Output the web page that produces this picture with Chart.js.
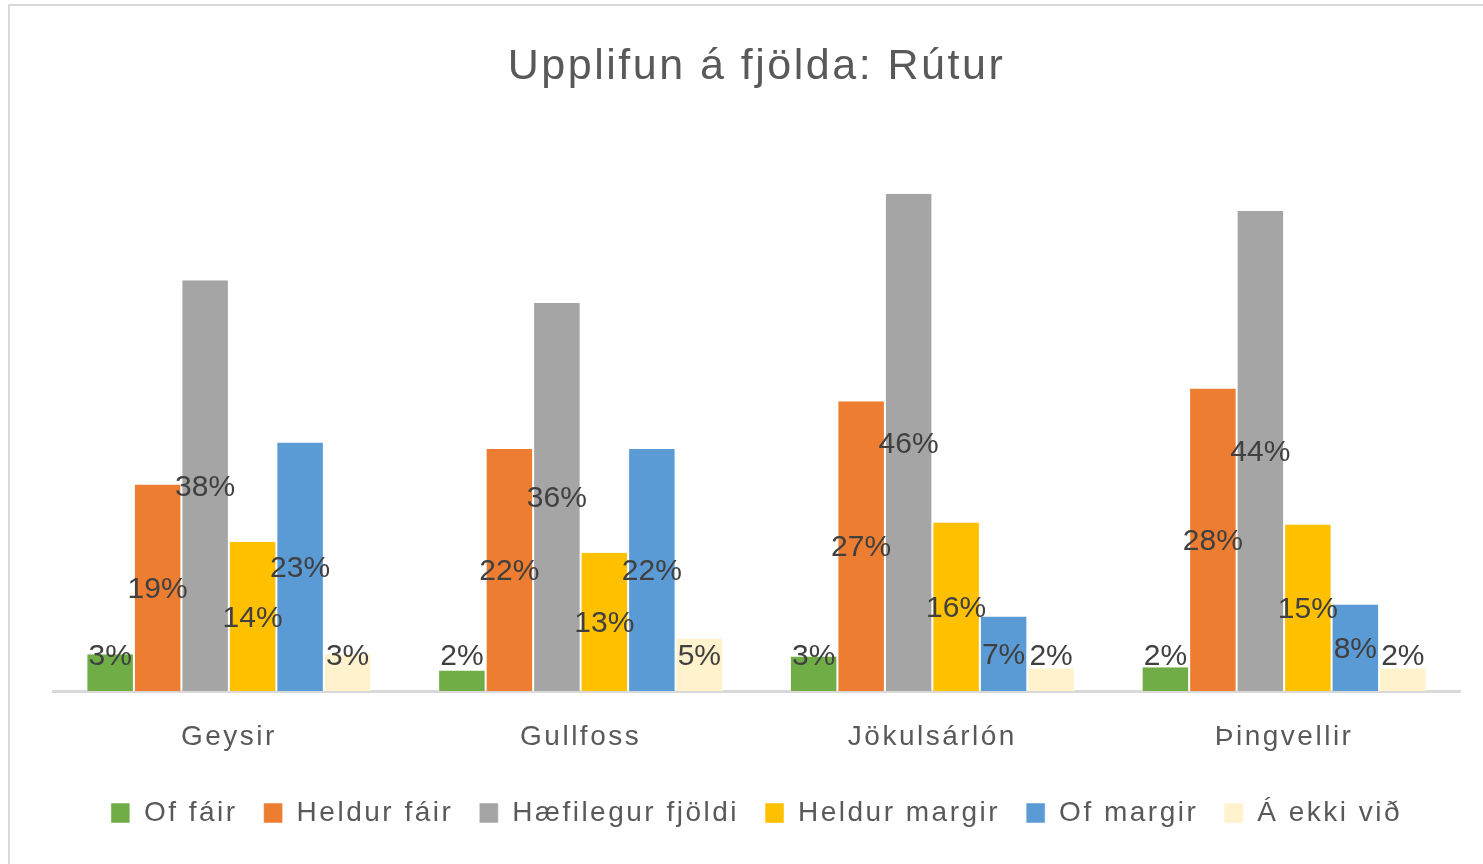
<!DOCTYPE html>
<html>
<head>
<meta charset="utf-8">
<script src="https://cdn.jsdelivr.net/npm/chart.js@4.4.1/dist/chart.umd.min.js"></script>
<style>
  body { margin: 0; background: #fff; }
  #wrap { position: relative; width: 1483px; height: 864px; }
</style>
</head>
<body>
<div id="wrap"><canvas id="myChart" width="1483" height="864"></canvas></div>
<script>
const categories = ['Geysir', 'Gullfoss', 'Jökulsárlón', 'Þingvellir'];
const seriesNames = ['Of fáir', 'Heldur fáir', 'Hæfilegur fjöldi', 'Heldur margir', 'Of margir', 'Á ekki við'];
const ofFair = [3.4, 1.9, 3.2, 2.2];
const heldurFair = [19.1, 22.4, 26.8, 28.0];
const haefilegur = [38.0, 35.9, 46.0, 44.4];
const heldurMargir = [13.8, 12.8, 15.6, 15.4];
const ofMargir = [23.0, 22.4, 6.9, 8.0];
const ekkiVid = [3.4, 4.8, 2.1, 2.1];
const colors = ['#70AD47', '#ED7D31', '#A5A5A5', '#FFC000', '#5B9BD5', '#FFF2CC'];

const series = [ofFair, heldurFair, haefilegur, heldurMargir, ofMargir, ekkiVid];
const spacing = '2.5px';
const fontFamily = '"Liberation Sans", Arial, sans-serif';

// Excel-ish spacing for title, ticks and legend, plus the frame
const spacingPlugin = {
  id: 'spacing',
  beforeUpdate(chart) { chart.ctx.letterSpacing = spacing; },
  beforeDraw(chart) {
    const ctx = chart.ctx;
    ctx.letterSpacing = spacing;
    ctx.save();
    ctx.fillStyle = '#fff';
    ctx.fillRect(0, 0, chart.width, chart.height);
    ctx.strokeStyle = '#d9d9d9';
    ctx.lineWidth = 2;
    ctx.beginPath();
    ctx.moveTo(9, chart.height);
    ctx.lineTo(9, 5);
    ctx.lineTo(chart.width, 5);
    ctx.stroke();
    ctx.restore();
  }
};

const valueLabels = {
  id: 'valueLabels',
  afterDatasetsDraw(chart) {
    const ctx = chart.ctx;
    const base = chart.chartArea.bottom;
    ctx.save();
    ctx.letterSpacing = '0px';
    ctx.font = '30px ' + fontFamily;
    ctx.fillStyle = '#404040';
    ctx.textAlign = 'center';
    ctx.textBaseline = 'middle';
    chart.data.datasets.forEach((ds, i) => {
      chart.getDatasetMeta(i).data.forEach((bar, j) => {
        const mid = (bar.y + base) / 2 + 2;
        const y = Math.min(mid, base - 34);
        ctx.fillText(Math.round(ds.data[j]) + '%', bar.x, y);
      });
    });
    ctx.restore();
  }
};

new Chart(document.getElementById('myChart'), {
  type: 'bar',
  data: {
    labels: categories,
    datasets: series.map((d, i) => ({
      label: seriesNames[i],
      data: d,
      backgroundColor: colors[i],
      borderColor: '#ffffff',
      borderWidth: { left: 1, right: 1, top: 0, bottom: 0 },
      borderSkipped: false,
      categoryPercentage: 0.81,
      barPercentage: 1.0
    }))
  },
  options: {
    responsive: false,
    animation: false,
    layout: { padding: { left: 53, right: 23, top: 10, bottom: 27 } },
    scales: {
      x: {
        grid: { display: false, drawTicks: false },
        border: { display: true, color: '#d9d9d9', width: 3 },
        ticks: {
          color: '#595959',
          padding: 29,
          font: { family: fontFamily, size: 28 }
        },
        afterFit(scale) { scale.height = 82; }
      },
      y: {
        display: false,
        min: 0,
        max: 50
      }
    },
    plugins: {
      title: {
        display: true,
        text: 'Upplifun á fjölda: Rútur',
        color: '#595959',
        font: { family: fontFamily, size: 43, weight: 'normal' },
        padding: { top: 31, bottom: 58 }
      },
      legend: {
        position: 'bottom',
        labels: {
          color: '#595959',
          boxWidth: 19,
          boxHeight: 20,
          padding: 26,
          font: { family: fontFamily, size: 28 }
        }
      },
      tooltip: { enabled: false }
    }
  },
  plugins: [spacingPlugin, valueLabels]
});
</script>
</body>
</html>
